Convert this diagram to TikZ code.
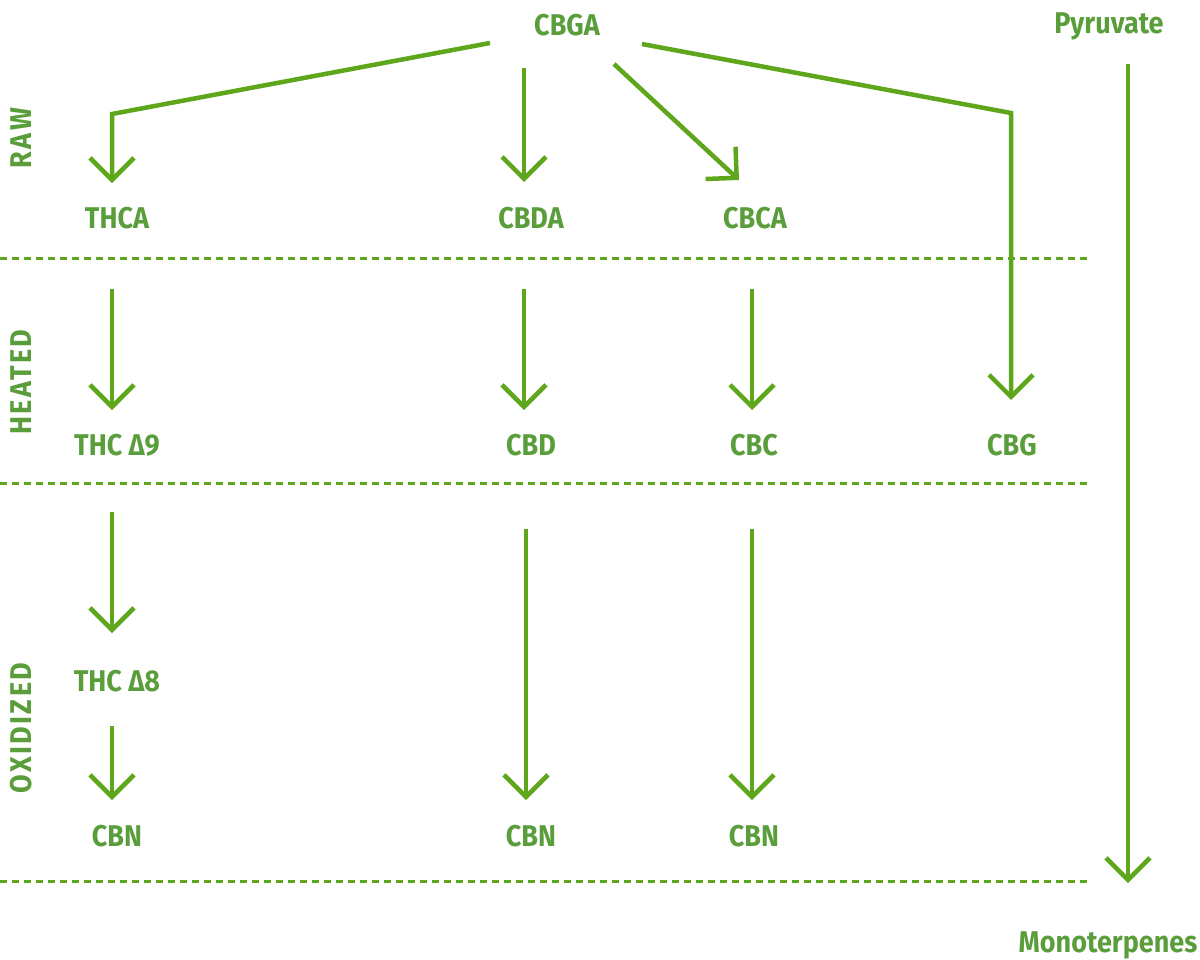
\documentclass[tikz,border=0pt]{standalone}
\usepackage{fontspec}
\setmainfont{Fira Sans}
\newfontfamily\lblfont{Fira Sans}[FakeStretch=0.9]
\newfontfamily\sidefont{Fira Sans}[FakeStretch=0.9,LetterSpace=8]
\usetikzlibrary{arrows.meta}
\definecolor{txtgreen}{RGB}{90,158,60}
\definecolor{linegreen}{RGB}{94,166,28}
\begin{document}
\begin{tikzpicture}[x=1pt,y=-1pt,
  lbl/.style={text=txtgreen,font=\lblfont\fontsize{30}{34}\selectfont\bfseries,inner sep=0pt},
  side/.style={text=txtgreen,font=\sidefont\fontsize{30}{34}\selectfont\bfseries,inner sep=0pt,rotate=90},
  arr/.style={draw=linegreen,line width=4.5pt,-{Straight Barb[length=22pt,width=44pt]}},
  sep/.style={draw=linegreen,line width=3pt,dash pattern=on 7pt off 5pt}]
\useasboundingbox (0,0) rectangle (1200,959);
% labels
\node[lbl] (cbga) at (567,25) {CBGA};
\node[lbl,anchor=base] (pyr) at (1109,33) {Pyruvate};
\node[lbl,anchor=base] (mono) at (1108,952) {Monoterpenes};
\node[side] (raw) at (21,138) {RAW};
\node[side] (heated) at (21,382) {HEATED};
\node[side] (oxid) at (21,728) {OXIDIZED};
\node[lbl] (thca) at (117,218) {THCA};
\node[lbl] (cbda) at (531,218) {CBDA};
\node[lbl] (cbca) at (755,218) {CBCA};
\node[lbl] (thc9) at (117,445) {THC Δ9};
\node[lbl] (cbd) at (531,445) {CBD};
\node[lbl] (cbc) at (754,445) {CBC};
\node[lbl] (cbg) at (1012,445) {CBG};
\node[lbl] (thc8) at (117,681) {THC Δ8};
\node[lbl] (cbna) at (117,836) {CBN};
\node[lbl] (cbnb) at (531,836) {CBN};
\node[lbl] (cbnc) at (754,836) {CBN};
% separators
\draw[sep] (0,258) -- (1087,258);
\draw[sep] (0,483) -- (1087,483);
\draw[sep] (0,881) -- (1087,881);
% connectors
\draw[arr] ([shift={(-77,18)}]cbga.center) -- ([shift={(-5,-104)}]thca.center) -- ([shift={(-5,-35)}]thca.center);
\draw[arr] ([shift={(-43,43)}]cbga.center) -- ([shift={(-7,-36)}]cbda.center);
\draw[arr] ([shift={(47,39)}]cbga.center) -- ([shift={(-16,-38)}]cbca.center);
\draw[arr] ([shift={(75,19)}]cbga.center) -- ([shift={(-1,-332)}]cbg.center) -- ([shift={(-1,-45)}]cbg.center);
\draw[arr] ([shift={(-5,71)}]thca.center) -- ([shift={(-5,-35)}]thc9.center);
\draw[arr] ([shift={(-7,71)}]cbda.center) -- ([shift={(-7,-35)}]cbd.center);
\draw[arr] ([shift={(-3,71)}]cbca.center) -- ([shift={(-2,-35)}]cbc.center);
\draw[arr] ([shift={(-5,67)}]thc9.center) -- ([shift={(-5,-48)}]thc8.center);
\draw[arr] ([shift={(-5,45)}]thc8.center) -- ([shift={(-5,-36)}]cbna.center);
\draw[arr] ([shift={(-5,84)}]cbd.center) -- ([shift={(-5,-36)}]cbnb.center);
\draw[arr] ([shift={(-2,84)}]cbc.center) -- ([shift={(-2,-36)}]cbnc.center);
\draw[arr] ([shift={(19,31)}]pyr.base) -- ([shift={(20,-69)}]mono.base);
\end{tikzpicture}
\end{document}
